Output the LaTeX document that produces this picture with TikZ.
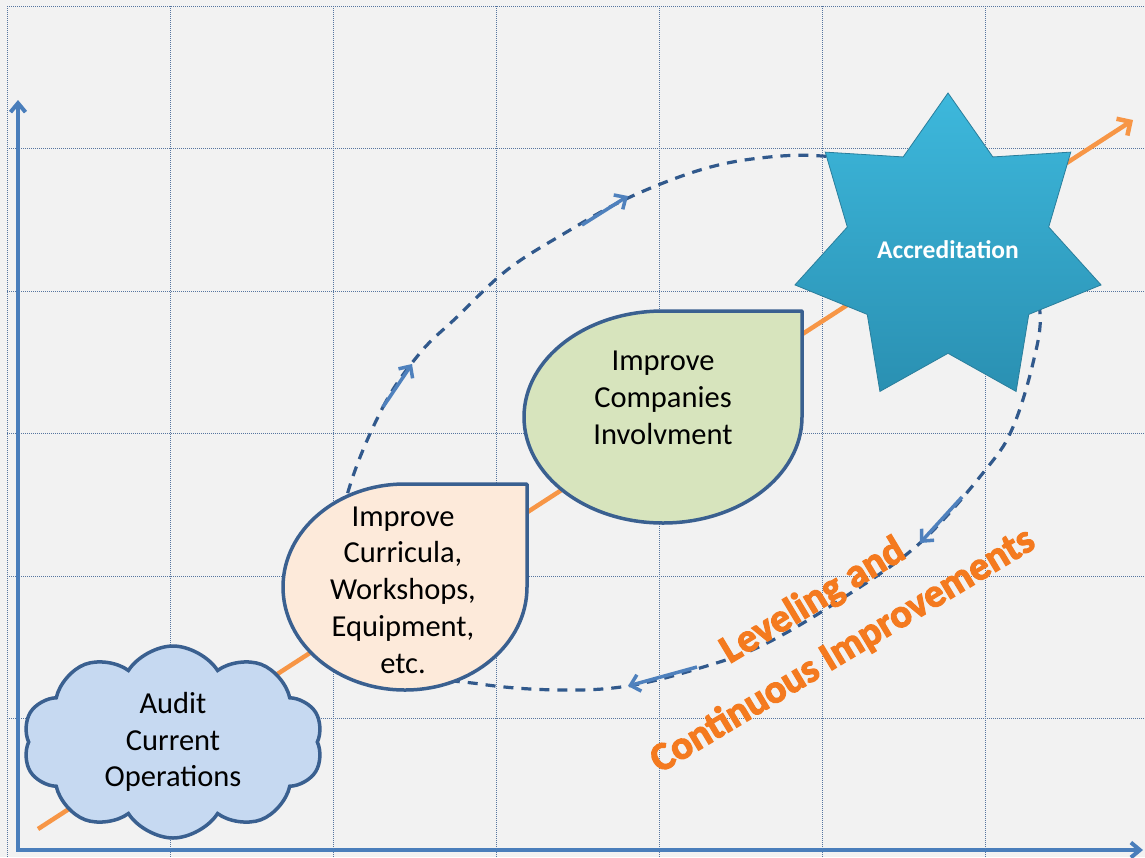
\documentclass[tikz,border=0pt]{standalone}
\usepackage{fontspec}
\setmainfont{Carlito}
\newfontfamily\sloganfont[FakeBold=3]{Carlito Bold}
\usetikzlibrary{shapes, arrows.meta, positioning}

\definecolor{paper}{HTML}{F2F2F2}
\definecolor{gridblue}{HTML}{56759F}
\definecolor{axisblue}{HTML}{4A7EBB}
\definecolor{trendorange}{HTML}{F79646}
\definecolor{loopblue}{HTML}{31598C}
\definecolor{arrowblue}{HTML}{4F81BD}
\definecolor{edgeblue}{HTML}{3A6090}
\definecolor{peach}{HTML}{FDEADA}
\definecolor{sage}{HTML}{D7E4BD}
\definecolor{sky}{HTML}{C6D9F1}
\definecolor{startop}{HTML}{3DB8DC}
\definecolor{starbottom}{HTML}{2A90B2}
\definecolor{staredge}{HTML}{2A7E9C}
\definecolor{slogantext}{HTML}{F47A1F}

\tikzset{
  gridline/.style={
    gridblue,
    line width=0.8pt,
    dash pattern=on 1pt off 1pt
  },
  axis/.style={
    axisblue,
    line width=4pt,
    {Straight Barb[length=9pt,width=15pt]}-{Straight Barb[length=9pt,width=15pt]}
  },
  trend/.style={
    trendorange,
    line width=4.5pt,
    -{Straight Barb[length=10pt,width=20pt]}
  },
  cycleline/.style={
    loopblue,
    line width=3.2pt,
    dash pattern=on 10pt off 8pt
  },
  cyclearrow/.style={
    arrowblue,
    line width=3.5pt,
    -{Straight Barb[length=9pt,width=17pt]}
  },
  drop/.style={
    draw=edgeblue,
    line width=3.5pt,
    line join=round
  },
  droptext/.style={
    align=center,
    font=\fontsize{30.5}{36.7}\selectfont
  },
  auditcloud/.style={
    cloud,
    cloud puffs=10,
    cloud puff arc=115,
    aspect=1.6,
    minimum width=300pt,
    minimum height=192pt,
    fill=sky,
    draw=edgeblue,
    line width=3.5pt,
    align=center,
    font=\fontsize{30.5}{36.5}\selectfont
  },
  accredstar/.style={
    star,
    star points=7,
    star point ratio=1.52,
    minimum size=314pt,
    inner sep=0pt,
    top color=startop,
    bottom color=starbottom,
    draw=staredge,
    line width=0.8pt,
    text=white,
    font=\bfseries\fontsize{25.5}{30}\selectfont
  },
  slogan/.style={
    align=center,
    text=slogantext,
    font=\sloganfont\fontsize{40}{58}\selectfont
  }
}

\begin{document}
\begin{tikzpicture}[x=1pt, y=-1pt]
\useasboundingbox (0,0) rectangle (1145,857);
\fill[paper] (0,0) rectangle (1145,857);

% grid
\foreach \gx in {7,170,333,496,659,822,985}
  \draw[gridline] (\gx,6) -- (\gx,857);
\foreach \gy in {6,148,291,433,576,718}
  \draw[gridline] (7,\gy) -- (1145,\gy);

% axes and trend
\coordinate (origin) at (18,850);
\coordinate (ytip) at (18,100);
\coordinate (xtip) at (1143,850);
\coordinate (trendstart) at (38,829);
\coordinate (trendend) at (1133,120);
\draw[axis] (ytip) -- (origin) -- (xtip);
\draw[trend] (trendstart) -- (trendend);

% improvement cycle
\draw[cycleline] plot[smooth cycle, tension=0.6] coordinates {
  (348,492) (383,407) (420,353) (457,317) (507,270) (565,233) (628,198)
  (700,170) (760,158) (822,156) (900,168) (975,212) (1025,262) (1040,313)
  (1033,363) (1013,427) (987,468) (920,543) (840,600) (763,645) (700,668)
  (628,686) (560,690) (480,684) (390,665) (330,590)};
\draw[cyclearrow] (383,407) -- (412,364);
\draw[cyclearrow] (582,225) -- (628,196);
\draw[cyclearrow] (962,497) -- (920,543);
\draw[cyclearrow] (697,667) -- (628,686);

% nodes
\filldraw[drop, fill=peach] (405,484) -- (527,484) -- (527,587)
  arc[start angle=0, end angle=-270, x radius=122pt, y radius=103pt] -- cycle;
\node[droptext] (curricula) at (403,590)
  {Improve\\Curricula,\\Workshops,\\Equipment,\\etc.};

\filldraw[drop, fill=sage] (663,311) -- (802,311) -- (802,417)
  arc[start angle=0, end angle=-270, x radius=139pt, y radius=106pt] -- cycle;
\node[droptext] (companies) at (663,398)
  {Improve\\Companies\\Involvment};

\node[auditcloud] (audit) at (173,742) {Audit\\Current\\Operations};

\node[accredstar] (accred) at (948,250) {Accreditation};

\node[slogan, rotate=31] (leveling) at (828,626)
  {Leveling and\\Continuous Improvements};

\end{tikzpicture}
\end{document}
